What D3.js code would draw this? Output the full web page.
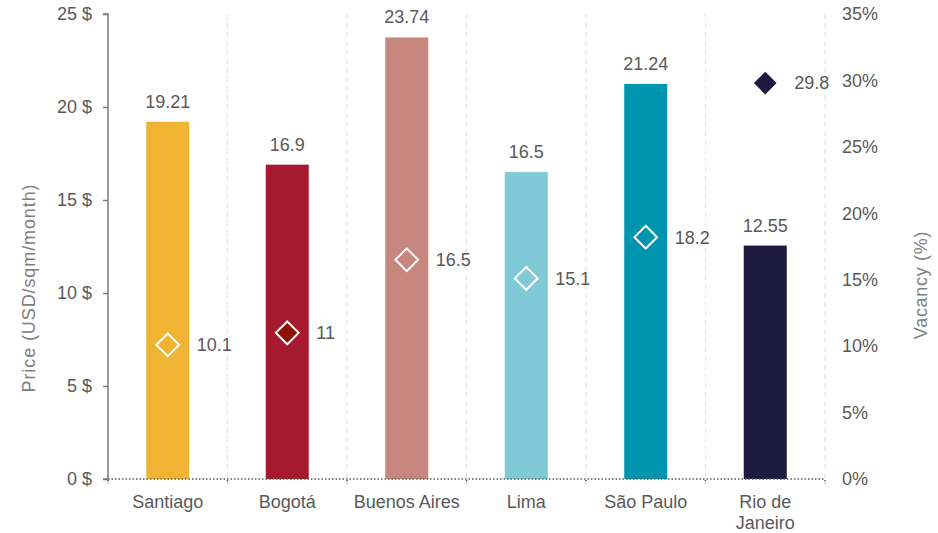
<!DOCTYPE html>
<html>
<head>
<meta charset="utf-8">
<script src="https://cdn.jsdelivr.net/npm/d3@7"></script>
<style>
  html, body { margin: 0; padding: 0; background: #fff; }
  svg { display: block; font-family: "Liberation Sans", Arial, sans-serif; }
</style>
</head>
<body>
<svg id="chart" width="938" height="533"></svg>
<script>
// ── Data ──────────────────────────────────────────────────────────────
const cities   = ['Santiago', 'Bogotá', 'Buenos Aires', 'Lima', 'São Paulo', 'Rio de Janeiro'];
const prices   = [19.21, 16.9, 23.74, 16.5, 21.24, 12.55];     // USD/sqm/month
const vacancy  = [10.1, 11, 16.5, 15.1, 18.2, 29.8];           // %
const barColors     = ['#F0B434', '#A6192E', '#C8877E', '#80C9D6', '#0095AE', '#1F1A40'];
const diamondColors = ['#F0B434', '#8B1200', '#C8877E', '#80C9D6', '#0095AE', '#1F1A40'];
const priceTicks   = [0, 5, 10, 15, 20, 25];
const vacancyTicks = [0, 5, 10, 15, 20, 25, 30, 35];

// ── Layout ────────────────────────────────────────────────────────────
const W = 938, H = 533;
const m = { top: 14, right: 113, bottom: 54, left: 108 };
const iw = W - m.left - m.right;
const ih = H - m.top - m.bottom;
const TEXT = '#595959';
const FS = 18;

const svg = d3.select('#chart');
const g = svg.append('g').attr('transform', `translate(${m.left},${m.top})`);

const x  = d3.scaleBand().domain(cities).range([0, iw]).paddingInner(0.64).paddingOuter(0.32);
const band = d3.scaleBand().domain(cities).range([0, iw]);
const yL = d3.scaleLinear().domain([0, 25]).range([ih, 0]);
const yR = d3.scaleLinear().domain([0, 35]).range([ih, 0]);

// Vertical dashed separators
g.append('g')
  .selectAll('line')
  .data(cities)
  .join('line')
  .attr('x1', d => band(d) + band.bandwidth())
  .attr('x2', d => band(d) + band.bandwidth())
  .attr('y1', 0).attr('y2', ih)
  .attr('stroke', '#e3e3e3')
  .attr('stroke-width', 1.2)
  .attr('stroke-dasharray', '5,4');

// Bars
g.append('g')
  .selectAll('rect')
  .data(cities)
  .join('rect')
  .attr('x', d => x(d))
  .attr('width', x.bandwidth())
  .attr('y', (d, i) => yL(prices[i]))
  .attr('height', (d, i) => ih - yL(prices[i]))
  .attr('fill', (d, i) => barColors[i]);

// Bar value labels
g.append('g')
  .selectAll('text')
  .data(cities)
  .join('text')
  .attr('x', d => x(d) + x.bandwidth() / 2)
  .attr('y', (d, i) => yL(prices[i]) - 14)
  .attr('text-anchor', 'middle')
  .attr('font-size', FS)
  .attr('fill', TEXT)
  .text((d, i) => prices[i]);

// Baseline (dotted) + x ticks at band edges
g.append('line')
  .attr('x1', 0).attr('x2', iw)
  .attr('y1', ih).attr('y2', ih)
  .attr('stroke', '#595959')
  .attr('stroke-width', 1.5)
  .attr('stroke-dasharray', '1.5,2');

const xAx = g.append('g').attr('transform', `translate(0,${ih})`);
xAx.selectAll('line')
  .data([0].concat(cities.map(d => band(d) + band.bandwidth())))
  .join('line')
  .attr('x1', d => d).attr('x2', d => d)
  .attr('y1', 1).attr('y2', 5)
  .attr('stroke', '#595959')
  .attr('stroke-width', 1.5)
  .attr('stroke-dasharray', '1.5,2');

// Category labels (wrap Rio de Janeiro)
xAx.selectAll('text')
  .data(cities)
  .join('text')
  .attr('x', d => band(d) + band.bandwidth() / 2)
  .attr('y', 29)
  .attr('text-anchor', 'middle')
  .attr('font-size', FS)
  .attr('fill', TEXT)
  .each(function(d) {
    const lines = d === 'Rio de Janeiro' ? ['Rio de', 'Janeiro'] : [d];
    d3.select(this).selectAll('tspan')
      .data(lines)
      .join('tspan')
      .attr('x', band(d) + band.bandwidth() / 2)
      .attr('dy', (l, i) => i === 0 ? 0 : 21)
      .text(l => l);
  });

// Left axis
const left = g.append('g')
  .call(d3.axisLeft(yL).tickValues(priceTicks).tickSize(5).tickPadding(11).tickFormat(d => d + ' $'));
left.select('.domain').attr('stroke', '#7a7a7a').attr('stroke-width', 1.5)
  .attr('d', `M-5,0H0V${ih}H-5`);
left.selectAll('.tick line').attr('stroke', '#7a7a7a').attr('stroke-width', 1.5);
left.selectAll('.tick text').attr('font-size', FS).attr('fill', TEXT).attr('font-family', 'Liberation Sans, Arial, sans-serif');

// Right axis (labels only)
const right = g.append('g').attr('transform', `translate(${iw},0)`)
  .call(d3.axisRight(yR).tickValues(vacancyTicks).tickSize(0).tickPadding(17).tickFormat(d => d + '%'));
right.select('.domain').remove();
right.selectAll('.tick text').attr('font-size', FS).attr('fill', TEXT).attr('font-family', 'Liberation Sans, Arial, sans-serif');

// Axis titles
svg.append('text')
  .attr('transform', `translate(35,288) rotate(-90)`)
  .attr('text-anchor', 'middle')
  .attr('font-size', FS)
  .attr('letter-spacing', 0.9)
  .attr('fill', '#808080')
  .text('Price (USD/sqm/month)');

svg.append('text')
  .attr('transform', `translate(927,285) rotate(-90)`)
  .attr('text-anchor', 'middle')
  .attr('font-size', FS)
  .attr('letter-spacing', 0.7)
  .attr('fill', '#808080')
  .text('Vacancy (%)');

// Vacancy diamonds
const diamond = d3.symbol().type(d3.symbolDiamond2).size(330);
g.append('g')
  .selectAll('path')
  .data(cities)
  .join('path')
  .attr('d', diamond)
  .attr('transform', (d, i) => `translate(${x(d) + x.bandwidth() / 2},${yR(vacancy[i])})`)
  .attr('fill', (d, i) => diamondColors[i])
  .attr('stroke', (d, i) => i === cities.length - 1 ? 'none' : '#fff')
  .attr('stroke-width', 2);

// Vacancy labels
g.append('g')
  .selectAll('text')
  .data(cities)
  .join('text')
  .attr('x', d => x(d) + x.bandwidth() / 2 + 29)
  .attr('y', (d, i) => yR(vacancy[i]))
  .attr('dy', '0.35em')
  .attr('font-size', FS)
  .attr('fill', TEXT)
  .text((d, i) => vacancy[i]);
</script>
</body>
</html>
